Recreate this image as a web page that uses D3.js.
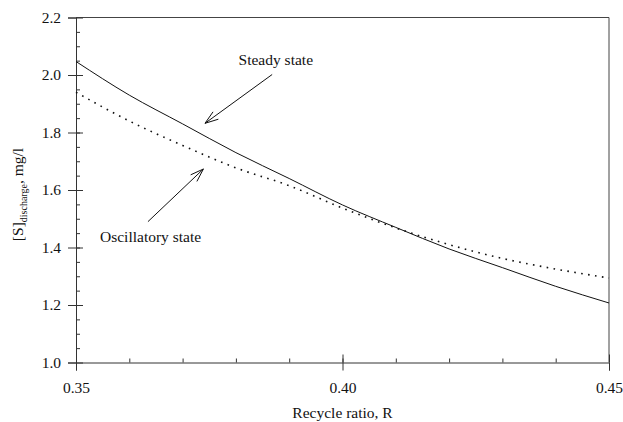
<!DOCTYPE html>
<html>
<head>
<meta charset="utf-8">
<script src="https://cdn.jsdelivr.net/npm/d3@7"></script>
<style>
    body { margin: 0; background: #fff; }
    text { font-family: "Liberation Serif", "DejaVu Serif", serif; fill: #111; }
    .axis path, .axis line { stroke: #333; }
</style>
</head>
<body>
<div id="chart"></div>
<script>
// recycle ratio R
var ratios = [0.35, 0.36, 0.37, 0.38, 0.39, 0.40, 0.41, 0.42, 0.43, 0.44, 0.45];
// [S]discharge, mg/l
var steady_state = [2.047, 1.93, 1.83, 1.73, 1.64, 1.548, 1.47, 1.395, 1.33, 1.265, 1.207];
var oscillatory_state = [1.94, 1.84, 1.755, 1.677, 1.615, 1.537, 1.468, 1.41, 1.362, 1.325, 1.294];

var x_ticks = [0.35, 0.40, 0.45];
var y_ticks = [1.0, 1.2, 1.4, 1.6, 1.8, 2.0, 2.2];

function draw_chart() {
    var margin = { top: 17.5, right: 14, bottom: 59.5, left: 76 };
    var width  = 623 - margin.left - margin.right;
    var height = 422 - margin.top - margin.bottom;

    var svg = d3.select("#chart")
        .append("svg")
        .attr("width", width + margin.left + margin.right)
        .attr("height", height + margin.top + margin.bottom)
        .append("g")
        .attr("transform", "translate(" + margin.left + "," + margin.top + ")");

    var x = d3.scaleLinear().domain([0.35, 0.45]).range([0, width]);
    var y = d3.scaleLinear().domain([1.0, 2.2]).range([height, 0]);

    // frame top + right
    svg.append("path")
        .attr("d", "M0,0H" + width + "V" + height)
        .attr("fill", "none")
        .attr("stroke", "#444");

    // x axis: major ticks cross the axis, minor ticks inside
    var xa = svg.append("g").attr("class", "axis")
        .attr("transform", "translate(0," + height + ")");
    xa.call(d3.axisBottom(x).tickValues(x_ticks).tickSize(8).tickPadding(11)
        .tickFormat(d3.format(".2f")));
    xa.append("g").call(d3.axisTop(x).tickValues(x_ticks).tickSize(8).tickFormat(""))
        .select(".domain").remove();
    xa.append("g").call(d3.axisTop(x).tickValues(d3.range(0.36, 0.449, 0.01)).tickSize(4).tickFormat(""))
        .select(".domain").remove();
    xa.selectAll("text").style("font-size", "15.5px");

    // y axis
    var ya = svg.append("g").attr("class", "axis");
    ya.call(d3.axisLeft(y).tickValues(y_ticks).tickSize(8).tickPadding(7)
        .tickFormat(d3.format(".1f")));
    ya.append("g").call(d3.axisRight(y).tickValues(y_ticks).tickSize(7).tickFormat(""))
        .select(".domain").remove();
    ya.append("g").call(d3.axisRight(y).tickValues(d3.range(1.05, 2.19, 0.05)).tickSize(4).tickFormat(""))
        .select(".domain").remove();
    ya.selectAll("text").style("font-size", "15.5px");

    var line = d3.line()
        .x(function(d, i) { return x(ratios[i]); })
        .y(function(d) { return y(d); })
        .curve(d3.curveMonotoneX);

    svg.append("path")
        .datum(steady_state)
        .attr("fill", "none")
        .attr("stroke", "#111")
        .attr("stroke-width", 1)
        .attr("d", line);

    svg.append("path")
        .datum(oscillatory_state)
        .attr("fill", "none")
        .attr("stroke", "#111")
        .attr("stroke-width", 1.6)
        .attr("stroke-dasharray", "1.6,5.4")
        .attr("d", line);

    // annotations, open arrow heads
    function arrow(x1, y1, x2, y2) {
        var a = Math.atan2(y2 - y1, x2 - x1), L = 14, s = 0.33;
        svg.append("path")
            .attr("d", "M" + x1 + "," + y1 + "L" + x2 + "," + y2 +
                "M" + (x2 - L * Math.cos(a - s)) + "," + (y2 - L * Math.sin(a - s)) +
                "L" + x2 + "," + y2 +
                "L" + (x2 - L * Math.cos(a + s)) + "," + (y2 - L * Math.sin(a + s)))
            .attr("fill", "none")
            .attr("stroke", "#111")
            .attr("stroke-width", 1);
    }
    arrow(x(0.3868), y(2.2) + 57, x(0.3742), y(1.825) - 2);
    svg.append("text")
        .attr("x", x(0.3805)).attr("y", y(2.2) + 47.5)
        .style("font-size", "15.5px")
        .text("Steady state");

    arrow(x(0.3635), y(1.49), x(0.3739), y(1.673));
    svg.append("text")
        .attr("x", 24).attr("y", 224.5)
        .style("font-size", "15.5px")
        .text("Oscillatory state");

    // axis titles
    svg.append("text")
        .attr("x", width / 2).attr("y", 400)
        .attr("text-anchor", "middle")
        .style("font-size", "15.5px")
        .text("Recycle ratio, R");

    var yl = svg.append("text")
        .attr("transform", "translate(" + (-53) + "," + (177) + ") rotate(-90)")
        .attr("text-anchor", "middle")
        .style("font-size", "15.5px");
    yl.append("tspan").text("[S]");
    yl.append("tspan").attr("dy", 4).style("font-size", "10px").text("discharge");
    yl.append("tspan").attr("dy", -4).text(", mg/l");
}

draw_chart();
</script>
</body>
</html>
